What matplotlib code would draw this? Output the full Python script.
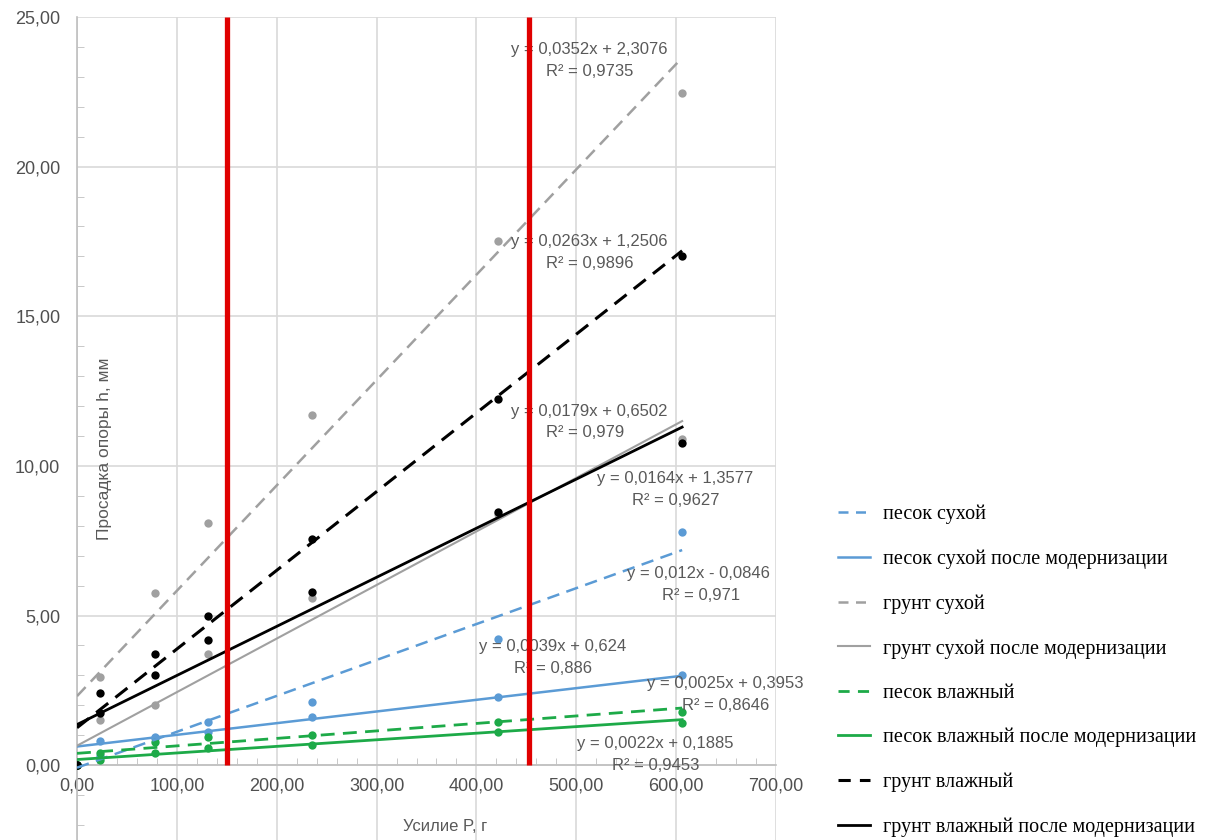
import matplotlib
matplotlib.use('Agg')
import matplotlib.pyplot as plt
from matplotlib.lines import Line2D
from matplotlib.ticker import MultipleLocator, FuncFormatter

# Усилие P, г
x = [0, 23, 78, 131, 235, 422, 606]

# Просадка опоры h, мм
pesok_suhoy = [0, 0.3, 0.9, 1.45, 2.12, 4.23, 7.8]
pesok_suhoy_mod = [0, 0.8, 0.93, 1.1, 1.6, 2.27, 3.0]
grunt_suhoy = [0, 2.93, 5.77, 8.1, 11.7, 17.5, 22.45]
grunt_suhoy_mod = [0, 1.5, 2.0, 3.7, 5.6, 8.4, 10.9]
pesok_vlazh = [0, 0.4, 0.77, 0.93, 1.0, 1.43, 1.77]
pesok_vlazh_mod = [0, 0.17, 0.4, 0.57, 0.67, 1.1, 1.4]
grunt_vlazh = [0, 2.4, 3.7, 4.97, 7.57, 12.25, 17.0]
grunt_vlazh_mod = [0, 1.75, 3.0, 4.17, 5.8, 8.45, 10.75]

names = ['песок сухой', 'песок сухой после модернизации',
         'грунт сухой', 'грунт сухой после модернизации',
         'песок влажный', 'песок влажный после модернизации',
         'грунт влажный', 'грунт влажный после модернизации']
series = [pesok_suhoy, pesok_suhoy_mod, grunt_suhoy, grunt_suhoy_mod,
          pesok_vlazh, pesok_vlazh_mod, grunt_vlazh, grunt_vlazh_mod]

# линии тренда (как подписано на графике)
slopes = [0.012, 0.0039, 0.0352, 0.0179, 0.0025, 0.0022, 0.0263, 0.0164]
intercepts = [-0.0846, 0.624, 2.3076, 0.6502, 0.3953, 0.1885, 1.2506, 1.3577]
eq_text = ['y = 0,012x - 0,0846', 'y = 0,0039x + 0,624', 'y = 0,0352x + 2,3076',
           'y = 0,0179x + 0,6502', 'y = 0,0025x + 0,3953', 'y = 0,0022x + 0,1885',
           'y = 0,0263x + 1,2506', 'y = 0,0164x + 1,3577']
r2_text = ['R² = 0,971', 'R² = 0,886', 'R² = 0,9735', 'R² = 0,979',
           'R² = 0,8646', 'R² = 0,9453', 'R² = 0,9896', 'R² = 0,9627']

# красные вертикальные линии
red_x = [150, 453]

# стиль каждой серии
colors = ['#5B9BD5', '#5B9BD5', '#A0A0A0', '#A0A0A0',
          '#1DAA48', '#1DAA48', '#000000', '#000000']
styles = ['dash', 'solid', 'dash', 'solid', 'dash', 'solid', 'dash', 'solid']
widths = [1.8, 1.8, 1.8, 1.5, 2.0, 2.0, 2.2, 2.0]
# положение подписей (левый край строки с уравнением), в единицах данных
label_pos = [(551, 6.4), (403, 3.97), (435, 23.9), (435, 11.83),
             (571, 2.73), (501, 0.73), (435, 17.5), (521, 9.57)]

fig = plt.figure(figsize=(12.08, 8.40), dpi=100)
ax = fig.add_axes([77 / 1208, 0, 699 / 1208, 823 / 840])

for i in range(len(series)):
    ax.scatter(x, series[i], s=36, color=colors[i], zorder=3, linewidths=0)
    xs = [0, max(x)]
    ys = [slopes[i] * v + intercepts[i] for v in xs]
    if styles[i] == 'dash':
        ax.plot(xs, ys, color=colors[i], lw=widths[i], dashes=(5, 3), zorder=4)
    else:
        ax.plot(xs, ys, color=colors[i], lw=widths[i], zorder=4)
    lx, ly = label_pos[i]
    ax.text(lx, ly, eq_text[i], color='#595959', fontsize=12,
            family='Liberation Sans', ha='left', va='center', zorder=5)
    ax.text(lx + 35, ly - 0.73, r2_text[i], color='#595959', fontsize=12,
            family='Liberation Sans', ha='left', va='center', zorder=5)

ax.vlines(red_x, 0, 25, color='#E00000', lw=3.8, zorder=6)

ax.set_xlim(0, 700)
ax.set_ylim(-2.5, 25)
ax.xaxis.set_major_locator(MultipleLocator(100))
ax.xaxis.set_minor_locator(MultipleLocator(20))
ax.yaxis.set_major_locator(MultipleLocator(5))
ax.yaxis.set_minor_locator(MultipleLocator(1))
fmt = FuncFormatter(lambda v, p: f'{v:.2f}'.replace('.', ','))
ax.xaxis.set_major_formatter(fmt)
ax.yaxis.set_major_formatter(fmt)
ax.grid(True, which='major', color='#D9D9D9', lw=1.2, zorder=0)
ax.set_axisbelow(True)
for s in ['top', 'right']:
    ax.spines[s].set_visible(False)
for s in ['left', 'bottom']:
    ax.spines[s].set_color('#BFBFBF')
    ax.spines[s].set_linewidth(1.2)
ax.spines['bottom'].set_position(('data', 0))
ax.tick_params(axis='x', which='major', length=0, labelsize=13, labelcolor='#505050', pad=9)
ax.tick_params(axis='y', which='major', length=0, labelsize=13, labelcolor='#505050', pad=12)
ax.tick_params(which='minor', direction='in', length=5, color='#BFBFBF')
for lab in ax.get_xticklabels() + ax.get_yticklabels():
    lab.set_family('Liberation Sans')

ax.set_xlabel('Усилие P, г', fontsize=12, color='#595959', family='Liberation Sans')
ax.xaxis.set_label_coords(0.526, 0.025)
ax.set_ylabel('Просадка опоры h, мм', fontsize=12.5, color='#595959', family='Liberation Sans')
ax.yaxis.set_label_coords(0.05, 0.475)

handles = []
for i in range(len(series)):
    if styles[i] == 'dash':
        handles.append(Line2D([], [], color=colors[i], lw=widths[i], dashes=(4, 3)))
    else:
        handles.append(Line2D([], [], color=colors[i], lw=widths[i]))
fig.legend(handles, names, loc='upper left', bbox_to_anchor=(838 / 1208, 1 - 505 / 840),
           frameon=False, prop={'family': 'Liberation Serif', 'size': 14.5},
           labelspacing=1.25, handlelength=1.6, handletextpad=0.65, borderpad=0,
           borderaxespad=0)

fig.savefig('out.png', dpi=100)
